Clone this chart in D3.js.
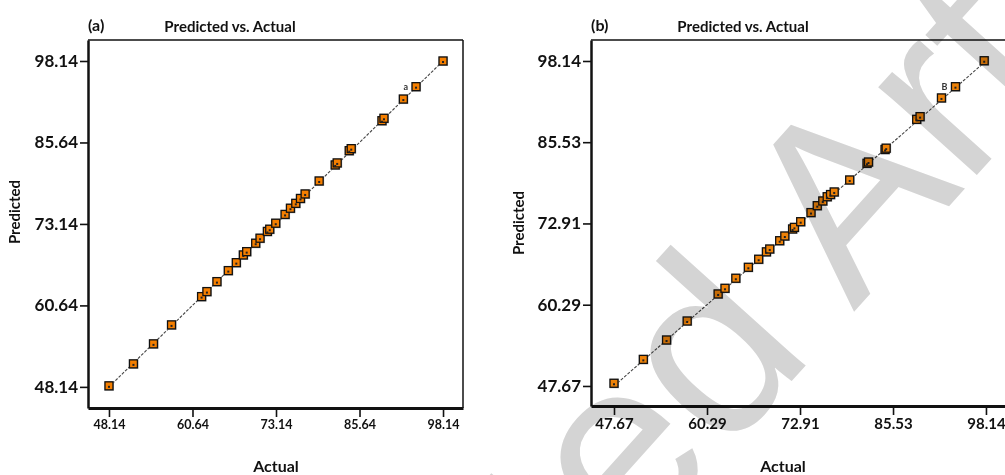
<!DOCTYPE html>
<html>
<head>
<meta charset="utf-8">
<script src="https://cdn.jsdelivr.net/npm/d3@7/dist/d3.min.js"></script>
<style>
  html, body { margin: 0; padding: 0; background: #fff; }
  svg { display: block; }
  text { font-family: Lato, "Open Sans", sans-serif; font-weight: bold; }
</style>
</head>
<body>
<svg id="chart" width="1005" height="475"></svg>
<script>
// ---------- DATA ----------
const ticksA = [48.14, 60.64, 73.14, 85.64, 98.14];
const actualA = [48.14, 51.8, 54.8, 57.5, 62.0, 62.8, 64.3, 66.0, 67.2, 68.25, 68.75, 70.1, 70.75, 71.85, 72.2, 73.1,
                 74.5, 75.3, 76.1, 76.8, 77.5, 79.6, 82.0, 82.3, 84.1, 84.4, 89.0, 89.3, 92.2, 94.1, 98.14];
const predictedA = [48.3, 51.67, 54.74, 57.65, 61.99, 62.76, 64.29, 65.98, 67.2, 68.38, 68.89, 70.18, 70.95, 71.99, 72.33, 73.25,
                    74.6, 75.55, 76.3, 77.05, 77.74, 79.73, 82.19, 82.5, 84.38, 84.69, 88.98, 89.35, 92.3, 94.2, 98.14];
const labelA = "a";

const ticksB = [47.67, 60.29, 72.91, 85.53, 98.14];
const actualB = [47.67, 51.65, 54.8, 57.6, 61.8, 62.73, 64.2, 65.9, 67.3, 68.35, 68.8, 70.15, 70.85, 71.9, 72.15, 73.0,
                 74.4, 75.25, 76.0, 76.6, 77.05, 77.55, 79.65, 82.0, 82.2, 84.45, 84.6, 88.74, 89.2, 92.1, 94.0, 97.9];
const predictedB = [48.09, 51.8, 54.81, 57.76, 61.96, 62.84, 64.4, 66.1, 67.35, 68.5, 68.94, 70.23, 70.96, 72.05, 72.3, 73.18,
                    74.6, 75.67, 76.4, 77.06, 77.4, 77.8, 79.66, 82.25, 82.45, 84.4, 84.6, 89.08, 89.5, 92.4, 94.15, 98.18];
const labelB = "B";

const panelTags = ["(a)", "(b)"];
const titleText = "Predicted vs. Actual";
const xTitle = "Actual";
const yTitle = "Predicted";
const watermark = "Accepted Article";

// ---------- LAYOUT ----------
const svg = d3.select("#chart");

const panels = [
  { tag: panelTags[0], ticks: ticksA, actual: actualA, pred: predictedA, label: labelA,
    left: 88, right: 463, top: 40, bottom: 408,
    xDom: [45.0, 101.13], yDom: [44.9, 101.36],
    yTickFont: 17, xTickFont: 12.5, fill: "#f57f00", hiIdx: 29 },
  { tag: panelTags[1], ticks: ticksB, actual: actualB, pred: predictedB, label: labelB,
    left: 591, right: 1008, top: 40, bottom: 406,
    xDom: [44.55, 101.13], yDom: [44.56, 101.4],
    yTickFont: 17, xTickFont: 15, fill: "#ee8208", hiIdx: 30 }
];

panels.forEach((p, pi) => {
  const g = svg.append("g");
  const x = d3.scaleLinear().domain(p.xDom).range([p.left, p.right]);
  const y = d3.scaleLinear().domain(p.yDom).range([p.bottom, p.top]);

  // frame (top + right thin)
  g.append("line").attr("x1", p.left).attr("x2", p.right).attr("y1", p.top).attr("y2", p.top)
    .attr("stroke", "#111").attr("stroke-width", 1.5);
  g.append("line").attr("x1", p.right).attr("x2", p.right).attr("y1", p.top).attr("y2", p.bottom)
    .attr("stroke", "#111").attr("stroke-width", 1.5);

  // axes
  const yAxis = d3.axisLeft(y).tickValues(p.ticks).tickFormat(d3.format(".2f")).tickSize(8).tickSizeOuter(0).tickPadding(2);
  const xAxis = d3.axisBottom(x).tickValues(p.ticks).tickFormat(d3.format(".2f")).tickSize(9).tickSizeOuter(0).tickPadding(3);

  const ya = g.append("g").attr("transform", `translate(${p.left},0)`).call(yAxis);
  ya.select(".domain").attr("stroke", "#111").attr("stroke-width", 2.5);
  ya.selectAll(".tick line").attr("stroke", "#111").attr("stroke-width", 1.6);
  ya.selectAll(".tick text").style("font-size", p.yTickFont + "px").style("font-family", "Lato, sans-serif")
    .style("font-weight", "bold").style("fill", "#111");

  const xa = g.append("g").attr("transform", `translate(0,${p.bottom})`).call(xAxis);
  xa.select(".domain").attr("stroke", "#111").attr("stroke-width", 3);
  xa.selectAll(".tick line").attr("stroke", "#111").attr("stroke-width", 1.6);
  xa.selectAll(".tick text").style("font-size", p.xTickFont + "px").style("font-family", "Lato, sans-serif")
    .style("font-weight", "bold").style("fill", "#111");

  // 45-degree reference line
  const lo = d3.min(p.actual), hi = d3.max(p.actual);
  g.append("line")
    .attr("x1", x(lo)).attr("y1", y(lo)).attr("x2", x(hi)).attr("y2", y(hi))
    .attr("stroke", "#444").attr("stroke-width", 1.1).attr("stroke-dasharray", "3,1.5");

  // points
  const pts = p.actual.map((a, i) => ({ a, pr: p.pred[i] }));
  const s = 8;
  g.selectAll("rect.shadow").data(pts).enter().append("rect").attr("class", "shadow")
    .attr("x", d => x(d.a) - s / 2 - 0.5).attr("y", d => y(d.pr) - s / 2 - 0.5)
    .attr("width", s + 1.5).attr("height", s + 1.5).attr("fill", "#9a9a9a").attr("opacity", 0.8);
  g.selectAll("rect.pt").data(pts).enter().append("rect").attr("class", "pt")
    .attr("x", d => x(d.a) - s / 2).attr("y", d => y(d.pr) - s / 2)
    .attr("width", s).attr("height", s).attr("fill", p.fill)
    .attr("stroke", "#111").attr("stroke-width", 1.3);
  g.selectAll("rect.dot").data(pts).enter().append("rect").attr("class", "dot")
    .attr("x", d => x(d.a) - 1).attr("y", d => y(d.pr))
    .attr("width", 2).attr("height", 2).attr("fill", "#222");

  // small design-point label
  const hp = pts[p.hiIdx];
  g.append("text").attr("x", x(hp.a) - 8).attr("y", y(hp.pr) + 3)
    .attr("text-anchor", "end").style("font-size", "9px").style("fill", "#333").text(p.label);

  // titles
  g.append("text").attr("x", p.left).attr("y", 31).style("font-size", "16px").style("fill", "#111").text(p.tag);
  g.append("text").attr("x", pi === 0 ? 230 : 743).attr("y", 32).attr("text-anchor", "middle")
    .style("font-size", "15px").style("fill", "#111").text(titleText);
  g.append("text").attr("x", pi === 0 ? 276 : 783).attr("y", 472).attr("text-anchor", "middle")
    .style("font-size", "16px").style("fill", "#111").text(xTitle);
  const yl = pi === 0 ? 20 : 524;
  const yc = pi === 0 ? 212 : 223;
  g.append("text").attr("transform", `translate(${yl},${yc}) rotate(-90)`).attr("text-anchor", "middle")
    .style("font-size", "15px").style("fill", "#111").text(yTitle);
});

// watermark (diagonal, multiplied over the chart)
svg.append("text")
  .attr("transform", "translate(119,1128) rotate(-48)")
  .style("font-family", "'Liberation Sans', Arial, sans-serif")
  .style("font-weight", "normal")
  .style("font-size", "250px")
  .style("mix-blend-mode", "multiply")
  .style("fill", "#d4d4d4")
  .text(watermark);
</script>
</body>
</html>
